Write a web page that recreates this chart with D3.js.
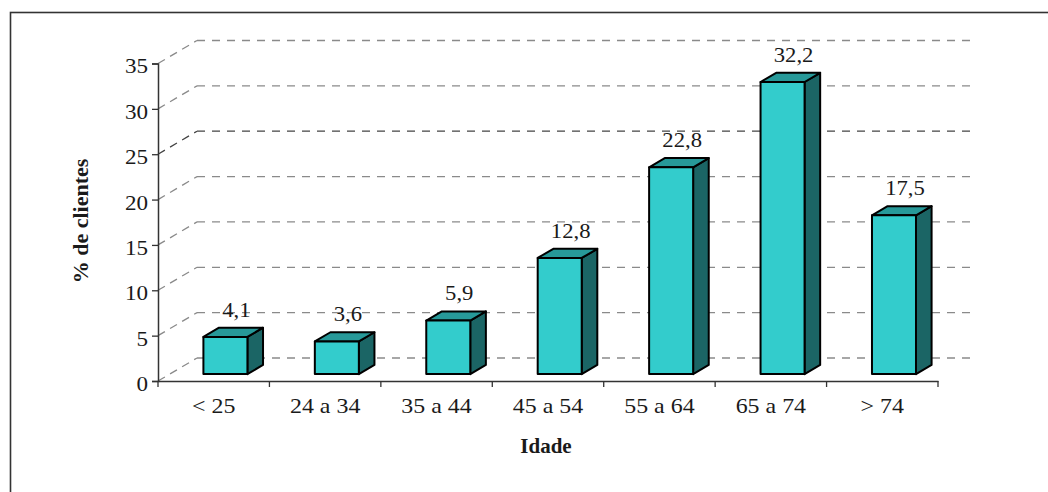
<!DOCTYPE html>
<html><head><meta charset="utf-8">
<script src="https://cdn.jsdelivr.net/npm/d3@7"></script>
<style>
html,body{margin:0;padding:0;background:#fff;}
svg{display:block;}
text{font-family:"Liberation Serif","Times New Roman",serif;fill:#1a1a1a;}
</style></head>
<body>
<svg id="chart" width="1048" height="492"></svg>
<script>
const categories = ["< 25","24 a 34","35 a 44","45 a 54","55 a 64","65 a 74","> 74"];
const values = [4.1, 3.6, 5.9, 12.8, 22.8, 32.2, 17.5];
const valueLabels = ["4,1","3,6","5,9","12,8","22,8","32,2","17,5"];
const yTicks = [0,5,10,15,20,25,30,35];
const yTitle = "% de clientes";
const xTitle = "Idade";

const svg = d3.select("#chart");
const X0 = 158, X1 = 938, Y0 = 381, Y35 = 63.5;
const DX = 39, DY = -23; // depth of the 3D box
const y = d3.scaleLinear().domain([0,35]).range([Y0, Y35]);
const x = d3.scaleBand().domain(categories).range([X0, X1]).padding(0);

// frame
svg.append("rect").attr("x",10.5).attr("y",12.5).attr("width",1100).attr("height",600)
  .attr("fill","none").attr("stroke","#333").attr("stroke-width",1.6);

// gridlines (diagonal + back wall)
const grid = svg.append("g");
yTicks.forEach(t => {
  const col = t === 25 ? "#444" : "#8a8a8a";
  grid.append("line").attr("x1",X0).attr("y1",y(t)).attr("x2",X0+DX).attr("y2",y(t)+DY)
    .attr("stroke",col).attr("stroke-width",1.3).attr("stroke-dasharray","8,6");
  grid.append("line").attr("x1",X0+DX).attr("y1",y(t)+DY).attr("x2",X1+DX).attr("y2",y(t)+DY)
    .attr("stroke",col).attr("stroke-width",1.3).attr("stroke-dasharray","8,7");
});

// y axis
const SY = 1.1;
const yAxis = svg.append("g").attr("transform",`translate(${X0},0)`)
  .call(d3.axisLeft(y).tickValues(yTicks).tickSize(6).tickPadding(4).tickFormat(d3.format("d")));
yAxis.select(".domain").attr("stroke","#333").attr("stroke-width",1.5);
yAxis.selectAll(".tick line").attr("stroke","#333").attr("stroke-width",1.3);
yAxis.selectAll(".tick text").attr("font-size",21).attr("font-family","Liberation Serif")
  .attr("fill","#1a1a1a").attr("dy","0.45em").attr("x",-10/SY)
  .attr("transform",`scale(${SY},1)`);

// x axis
const SX = 1.14;
const xAxis = svg.append("g").attr("transform",`translate(0,${Y0})`)
  .call(d3.axisBottom(x).tickSize(0).tickPadding(17));
xAxis.select(".domain").attr("stroke","#333").attr("stroke-width",1.5);
xAxis.selectAll(".tick text").attr("font-size",21).attr("font-family","Liberation Serif")
  .attr("fill","#1a1a1a").attr("transform",`scale(${SX},1)`);
const bounds = categories.map(c => x(c)).concat([X1]);
xAxis.selectAll(".bnd").data(bounds).enter().append("line")
  .attr("x1",d=>d).attr("x2",d=>d).attr("y1",0).attr("y2",6)
  .attr("stroke","#333").attr("stroke-width",1.3);

// bars
const FR = 0.3, BD = 0.4;
const bdx = DX*BD, bdy = DY*BD;
const bw = x.bandwidth()*0.395;
const bars = svg.append("g");
const SV = 1.08;
categories.forEach((c,i) => {
  const cx = x(c) + x.bandwidth()/2 + DX*FR;
  const bx = cx - bw/2;
  const yb = y(0) + DY*FR;
  const yt = y(values[i]) + DY*FR;
  const g = bars.append("g").attr("stroke","#000").attr("stroke-width",2).attr("stroke-linejoin","round");
  g.append("polygon").attr("points",[[bx+bw,yt],[bx+bw+bdx,yt+bdy],[bx+bw+bdx,yb+bdy],[bx+bw,yb]].join(" "))
    .attr("fill","#1b6565");
  g.append("polygon").attr("points",[[bx,yt],[bx+bdx,yt+bdy],[bx+bw+bdx,yt+bdy],[bx+bw,yt]].join(" "))
    .attr("fill","#279999");
  g.append("rect").attr("x",bx).attr("y",yt).attr("width",bw).attr("height",yb-yt)
    .attr("fill","#33cccc");
  svg.append("text").attr("transform",`translate(${cx+11},${yt+bdy-11}) scale(${SV},1)`)
    .attr("text-anchor","middle").attr("font-size",21).text(valueLabels[i]);
});

// titles
svg.append("text").attr("transform","translate(88,221) rotate(-90)")
  .attr("text-anchor","middle").attr("font-size",22).attr("font-weight","bold").text(yTitle);
svg.append("text").attr("x",546).attr("y",453)
  .attr("text-anchor","middle").attr("font-size",21).attr("font-weight","bold").text(xTitle);
</script>
</body></html>
